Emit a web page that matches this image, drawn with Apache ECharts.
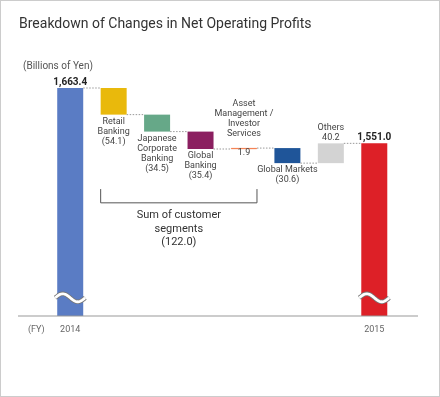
<!DOCTYPE html>
<html>
<head>
<meta charset="utf-8">
<script src="https://cdn.jsdelivr.net/npm/echarts@6/dist/echarts.min.js"></script>
<style>
  html, body { margin: 0; padding: 0; background: #fff; }
  #chart { position: absolute; left: 0; top: 0; width: 440px; height: 397px; }
  #frame { position: absolute; left: 0; top: 0; width: 440px; height: 397px; box-sizing: border-box; border: 1px solid #cccccc; pointer-events: none; }
</style>
</head>
<body>
<div id="chart"></div>
<div id="frame"></div>
<script>
// values in billions of yen
const years = ['2014', '2015'];
const startProfit = 1663.4;
const endProfit = 1551.0;
const segmentNames = ['Retail\nBanking', 'Japanese\nCorporate\nBanking', 'Global\nBanking', 'Asset\nManagement /\nInvestor\nServices', 'Global Markets', 'Others'];
const segmentChanges = [-54.1, -34.5, -35.4, 1.9, -30.6, 40.2];
const customerSegmentsSum = 122.0;
const barColors = ['#5a7cc4', '#e9b90c', '#66a888', '#8b1f60', '#f0642a', '#1f5599', '#d3d3d3', '#dd2027'];

document.addEventListener('DOMContentLoaded', function() {
  renderChart();
});

function fmt(v) {
  return v.toLocaleString('en-US', { minimumFractionDigits: 1, maximumFractionDigits: 1 });
}

function renderChart() {
  const chart = echarts.init(document.getElementById('chart'));
  const categories = [years[0]].concat(segmentNames, [years[1]]);
  const last = categories.length - 1;

  // waterfall: invisible base + visible step
  const base = [0];
  const step = [startProfit];
  const levels = [startProfit];
  let level = startProfit;
  segmentChanges.forEach(c => {
    const next = level + c;
    base.push(Math.min(level, next));
    step.push(Math.abs(c));
    level = next;
    levels.push(level);
  });
  base.push(0);
  step.push(endProfit);

  const labelFont = { fontFamily: 'Roboto', fontSize: 9, lineHeight: 10, color: '#444' };

  const stepData = step.map((v, i) => {
    const item = { value: v, itemStyle: { color: barColors[i] } };
    if (i === 0 || i === last) {
      item.label = { show: true, position: 'top', distance: 1, fontWeight: 'bold', fontSize: 10, color: '#222',
        formatter: fmt(i === 0 ? startProfit : endProfit) };
    } else {
      const c = segmentChanges[i - 1];
      const name = segmentNames[i - 1];
      if (i === 4) {
        item.itemStyle.borderColor = barColors[i];
        item.itemStyle.borderWidth = 0.5;
        item.label = { show: true, position: 'top', distance: 9, formatter: name };
      } else if (c > 0) {
        item.label = { show: true, position: 'top', distance: 1, formatter: name + '\n' + fmt(c) };
      } else {
        item.label = { show: true, position: 'bottom', distance: 2, formatter: name + '\n(' + fmt(-c) + ')' };
      }
    }
    return item;
  });

  const baseData = base.map((v, i) => {
    const item = { value: v };
    if (i === 4) {
      item.label = { show: true, position: 'insideTop', distance: 0, offset: [0, -1], formatter: fmt(segmentChanges[3]) };
    }
    return item;
  });

  const barWidth = 26;
  const breakValue = 1237;

  const option = {
    animation: false,
    title: [
      { text: 'Breakdown of Changes in Net Operating Profits', left: 19, top: 17, padding: 0,
        textStyle: { fontFamily: 'Roboto', fontSize: 14, fontWeight: 'normal', color: '#333' } },
      { text: '(Billions of Yen)', left: 23, top: 61, padding: 0,
        textStyle: { fontFamily: 'Roboto', fontSize: 10, fontWeight: 'normal', color: '#555' } },
      { text: '(FY)', left: 28, top: 325, padding: 0,
        textStyle: { fontFamily: 'Roboto', fontSize: 9, fontWeight: 'normal', color: '#666' } }
    ],
    grid: { left: 48.5, right: 44, top: 70, bottom: 81 },
    xAxis: {
      type: 'category',
      data: categories,
      axisLine: { show: false },
      axisTick: { show: false },
      axisLabel: {
        margin: 9, fontFamily: 'Roboto', fontSize: 9, color: '#666', interval: 0,
        formatter: (v, i) => (i === 0 || i === last) ? v : ''
      }
    },
    yAxis: { type: 'value', min: 1200, max: 1700, show: false, splitLine: { show: false } },
    graphic: [
      { type: 'line', shape: { x1: 18, y1: 316, x2: 418, y2: 316 }, style: { stroke: '#999', lineWidth: 1 }, z: 10 }
    ],
    series: [
      {
        type: 'bar', stack: 'w', barWidth: barWidth, data: baseData,
        itemStyle: { color: 'transparent' }, label: Object.assign({ show: false }, labelFont)
      },
      {
        type: 'bar', stack: 'w', barWidth: barWidth, data: stepData,
        label: labelFont
      },
      {
        // dotted connectors between steps
        type: 'custom',
        data: levels.map((v, i) => [i, v]),
        renderItem: function(params, api) {
          const i = api.value(0);
          const p1 = api.coord([i, api.value(1)]);
          const p2 = api.coord([i + 1, api.value(1)]);
          return {
            type: 'line',
            shape: { x1: p1[0] + barWidth / 2, y1: p1[1], x2: p2[0] - barWidth / 2, y2: p2[1] },
            style: { stroke: '#999', lineWidth: 1, lineDash: [1.5, 1.5] }
          };
        },
        z: 3
      },
      {
        // axis break marks
        type: 'custom',
        data: [[0, breakValue], [last, breakValue]],
        renderItem: function(params, api) {
          const p = api.coord([api.value(0), api.value(1)]);
          const pts = [];
          for (let k = 0; k <= 30; k++) {
            const t = k / 30;
            pts.push([p[0] - 15 + 30 * t, p[1] - 4 * Math.sin(t * 2 * Math.PI)]);
          }
          return {
            type: 'group',
            children: [
              { type: 'polyline', shape: { points: pts }, style: { stroke: '#777', lineWidth: 4.5, fill: null } },
              { type: 'polyline', shape: { points: pts }, style: { stroke: '#fff', lineWidth: 2.8, fill: null } }
            ]
          };
        },
        z: 5
      },
      {
        // bracket for customer segments
        type: 'custom',
        data: [[1, 4]],
        renderItem: function(params, api) {
          const a = api.coord([api.value(0), 1458]);
          const b = api.coord([api.value(1), 1430]);
          const x1 = a[0] - barWidth / 2, x2 = b[0] + barWidth / 2;
          return {
            type: 'group',
            children: [
              { type: 'polyline', shape: { points: [[x1, a[1]], [x1, b[1]], [x2, b[1]], [x2, a[1]]] },
                style: { stroke: '#555', lineWidth: 1, fill: null } },
              { type: 'text', x: (x1 + x2) / 2, y: b[1] + 6,
                style: { text: 'Sum of customer\nsegments\n(' + fmt(customerSegmentsSum) + ')',
                  align: 'center', verticalAlign: 'top', fontFamily: 'Roboto', fontSize: 11, lineHeight: 13.5, fill: '#333' } }
            ]
          };
        }
      }
    ]
  };
  chart.setOption(option);
}
</script>
</body>
</html>
